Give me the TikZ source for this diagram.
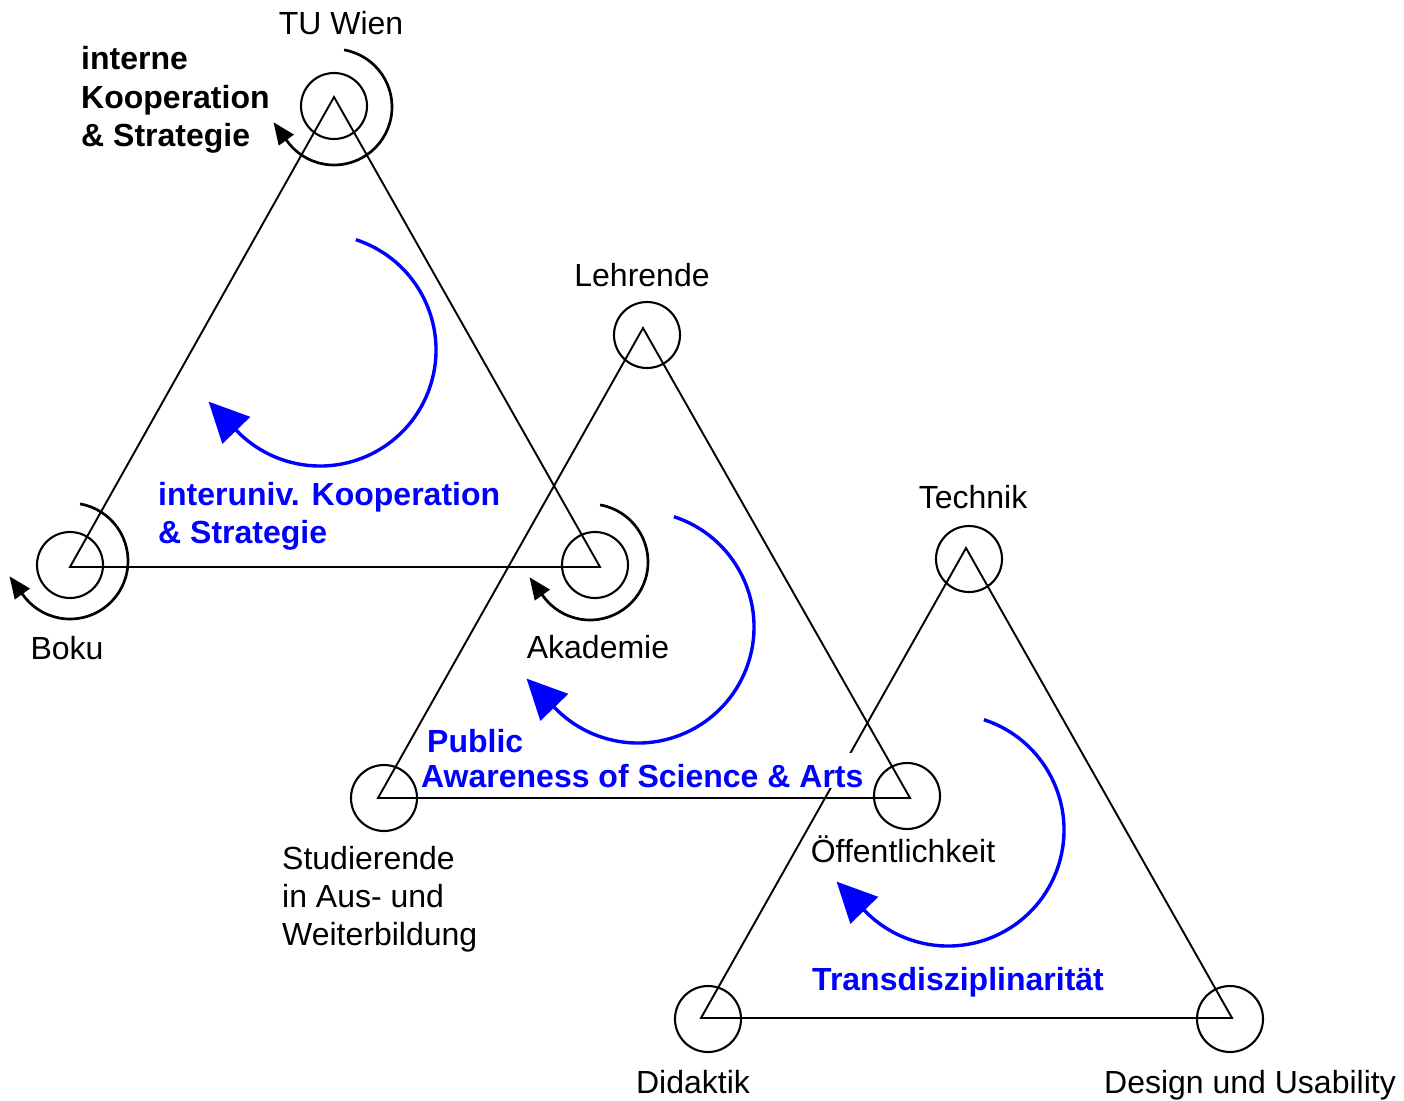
\documentclass[tikz,border=0pt]{standalone}
\usepackage{fontspec}
\setmainfont{Liberation Sans}
\usetikzlibrary{arrows.meta}
\definecolor{kblue}{RGB}{0,0,255}
\begin{document}
\begin{tikzpicture}[x=1bp,y=-1bp,
  tri/.style={line width=1.9bp, line join=miter},
  ring/.style={circle, draw, line width=2.1bp, minimum size=66bp, inner sep=0pt},
  loopb/.style={line width=2.7bp, -{Triangle[length=22bp,width=18bp]}},
  loopc/.style={line width=3.4bp, draw=kblue, -{Triangle[length=40bp,width=38bp]}, kblue},
  lbl/.style={font=\fontsize{32bp}{38.5bp}\selectfont, inner sep=0pt},
  blbl/.style={font=\fontsize{32bp}{38.5bp}\selectfont\bfseries, inner sep=0pt, anchor=base west}
]
\useasboundingbox (0,0) rectangle (1404,1100);

% triangle vertices
\coordinate (A1) at (334,97);  \coordinate (B1) at (70,567);  \coordinate (C1) at (600,567);
\coordinate (A2) at (643,328); \coordinate (B2) at (378,798); \coordinate (C2) at (910,798);
\coordinate (A3) at (966,548); \coordinate (B3) at (701,1018); \coordinate (C3) at (1232,1018);

% triangles
\draw[tri] (A1) -- (B1) -- (C1) -- cycle;
\draw[tri] (A2) -- (B2) -- (C2) -- cycle;
\draw[tri] (A3) -- (B3) -- (C3) -- cycle;

% rings
\node[ring] (tu)   at (334,106) {};
\node[ring] (boku) at (70,565) {};
\node[ring] (akad) at (595,565) {};
\node[ring] (lehr) at (647,335) {};
\node[ring] (stud) at (384,798) {};
\node[ring] (oeff) at (907,796) {};
\node[ring] (tech) at (969,559) {};
\node[ring] (dida) at (708,1019) {};
\node[ring] (desi) at (1230,1019) {};

% black self-loops
\coordinate (tuc) at (334,107);
\coordinate (bokc) at (70,561);
\coordinate (akc) at (590,562);
\draw[loopb] ([shift={(80:58bp)}]tuc) arc[start angle=80, end angle=-145, radius=58bp] -- ++(-13,-18);
\draw[loopb] ([shift={(80:58bp)}]bokc) arc[start angle=80, end angle=-145, radius=58bp] -- ++(-13,-18);
\draw[loopb] ([shift={(80:58bp)}]akc) arc[start angle=80, end angle=-145, radius=58bp] -- ++(-13,-18);

% blue cycle arrows
\coordinate (bc1) at (320,350);
\coordinate (bc2) at (638,627);
\coordinate (bc3) at (948,830);
\draw[loopc] ([shift={(72:116bp)}]bc1) arc[start angle=72, end angle=-136, radius=116bp] -- ++(-28,-29);
\draw[loopc] ([shift={(72:116bp)}]bc2) arc[start angle=72, end angle=-136, radius=116bp] -- ++(-28,-29);
\draw[loopc] ([shift={(72:116bp)}]bc3) arc[start angle=72, end angle=-136, radius=116bp] -- ++(-28,-29);

% vertex labels
\node[lbl, anchor=base] (tTU) at (341,34) {TU Wien};
\node[lbl, anchor=base] (tLe) at (642,286) {Lehrende};
\node[lbl, anchor=base] (tTe) at (973,508) {Technik};
\node[lbl, anchor=base] (tBo) at (67,659) {Boku};
\node[lbl, anchor=base] (tAk) at (598,658) {Akademie};
\node[lbl, anchor=base west] (tSt1) at (282,869) {Studierende};
\node[lbl, anchor=base west] (tSt2) at (282,907) {in Aus- und};
\node[lbl, anchor=base west] (tSt3) at (282,945) {Weiterbildung};
\node[lbl, anchor=base] (tOe) at (903,862) {Öffentlichkeit};
\node[lbl, anchor=base] (tDi) at (693,1093) {Didaktik};
\node[lbl, anchor=base] (tDe) at (1250,1093) {Design und Usability};

% bold labels
\node[blbl] (iK1) at (81,69) {interne};
\node[blbl] (iK2) at (81,108) {Kooperation};
\node[blbl] (iK3) at (81,146) {\& Strategie};
\node[blbl, text=kblue] (uK1) at (158,505) {interuniv. Kooperation};
\node[blbl, text=kblue] (uK2) at (158,543) {\& Strategie};
\node[blbl, text=kblue] (pa1) at (427,752) {Public};
\node[blbl, text=kblue, fill=white, text height=34bp, text depth=1bp] (pa2) at (421,787) {Awareness of Science \& Arts};
\node[blbl, text=kblue] (td) at (812,990) {Transdisziplinarität};
\end{tikzpicture}
\end{document}
